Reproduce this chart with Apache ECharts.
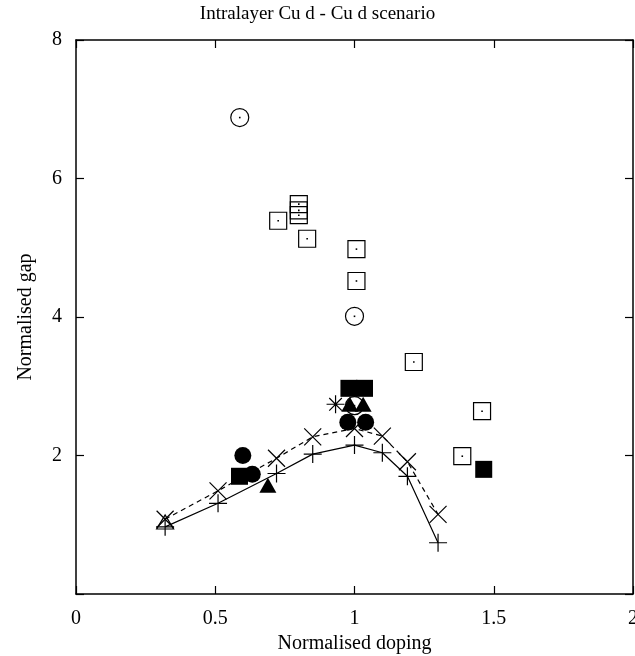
<!DOCTYPE html>
<html>
<head>
<meta charset="utf-8">
<script src="https://cdn.jsdelivr.net/npm/echarts@6/dist/echarts.min.js"></script>
<style>
  html, body { margin: 0; padding: 0; background: #fff; }
  #chart { width: 635px; height: 656px; }
</style>
</head>
<body>
<div id="chart"></div>
<script>
// Normalised gap vs normalised doping, intralayer Cu d - Cu d scenario

// x ticks / y ticks
const xTicks = [0, 0.5, 1, 1.5, 2];
const yTicks = [0, 2, 4, 6, 8];

// open squares (with centre dot)
const openSquares = [
  [0.726, 5.39], [0.80, 5.63], [0.80, 5.54], [0.80, 5.47], [0.830, 5.13],
  [1.007, 4.98], [1.007, 4.52], [1.213, 3.35], [1.458, 2.64], [1.387, 1.99]
];
// open circles (with centre dot)
const openCircles = [[0.588, 6.88], [1.0, 4.01], [1.0, 2.72]];
// filled squares
const filledSquares = [[0.587, 1.70], [0.98, 2.97], [1.036, 2.97], [1.464, 1.80]];
// filled circles
const filledCircles = [[0.599, 2.00], [0.633, 1.73], [0.976, 2.48], [1.04, 2.48]];
// filled triangles
const filledTriangles = [[0.689, 1.57], [0.983, 2.74], [1.031, 2.74]];
// open triangles
const openTriangles = [[0.32, 1.04]];
// star marker
const stars = [[0.932, 2.74]];

// model curves
const curveX = [0.32, 0.51, 0.72, 0.85, 1.0, 1.10, 1.19, 1.30];
const dashedY = [1.08, 1.49, 1.96, 2.27, 2.39, 2.28, 1.91, 1.15];
const solidY  = [0.97, 1.31, 1.74, 2.02, 2.15, 2.04, 1.70, 0.74];

const pair = (xs, ys) => xs.map((x, i) => [x, ys[i]]);

const FONT = 'Liberation Serif';
const CROSS = 'path://M0,0L20,20M20,0L0,20';
const PLUS = 'path://M10,0V20M0,10H20';
const STAR = 'path://M0,10H20M10,0V20M3,3L17,17M17,3L3,17';
const OPEN_TRI = 'path://M10,0L20,17.3L0,17.3Z';

const strokeOnly = { color: 'transparent', borderColor: '#000', borderWidth: 1.2, opacity: 1 };
const solidFill = { color: '#000', opacity: 1 };

const chart = echarts.init(document.getElementById('chart'), null, { renderer: 'canvas' });

const tickLabel = { fontFamily: FONT, fontSize: 20, color: '#000' };
const frameLine = { show: true, onZero: false, lineStyle: { color: '#000', width: 1.5 } };
const inTicks = { show: true, inside: true, length: 8, lineStyle: { color: '#000', width: 1.2 } };

chart.setOption({
  animation: false,
  backgroundColor: '#fff',
  title: {
    text: 'Intralayer Cu d - Cu d scenario',
    left: 'center',
    top: 0,
    textStyle: { fontFamily: FONT, fontSize: 19, fontWeight: 'normal', color: '#000' }
  },
  grid: { left: 76, right: 2, top: 40, bottom: 62, outerBoundsMode: 'none', containLabel: false },
  xAxis: [{
    type: 'value', min: xTicks[0], max: xTicks[xTicks.length - 1], interval: 0.5,
    name: 'Normalised doping', nameLocation: 'middle', nameGap: 40,
    nameTextStyle: { fontFamily: FONT, fontSize: 20, color: '#000' },
    axisLine: frameLine, axisTick: inTicks,
    axisLabel: Object.assign({ margin: 15, showMaxLabel: true, showMinLabel: true }, tickLabel),
    splitLine: { show: false }
  }, {
    type: 'value', position: 'top', min: xTicks[0], max: xTicks[xTicks.length - 1], interval: 0.5,
    axisLine: frameLine, axisTick: inTicks,
    axisLabel: { show: false },
    splitLine: { show: false }
  }],
  yAxis: [{
    type: 'value', min: yTicks[0], max: yTicks[yTicks.length - 1], interval: 2,
    name: 'Normalised gap', nameLocation: 'middle', nameGap: 40,
    nameTextStyle: { fontFamily: FONT, fontSize: 20, color: '#000' },
    axisLine: frameLine, axisTick: inTicks,
    axisLabel: Object.assign({ margin: 14, formatter: v => (v === 0 ? '' : String(v)) }, tickLabel),
    splitLine: { show: false }
  }, {
    type: 'value', position: 'right', min: yTicks[0], max: yTicks[yTicks.length - 1], interval: 2,
    axisLine: frameLine, axisTick: inTicks,
    axisLabel: { show: false },
    splitLine: { show: false }
  }],
  series: [
    {
      type: 'line', data: pair(curveX, solidY), symbol: PLUS, symbolSize: 18,
      lineStyle: { color: '#000', width: 1.2 }, itemStyle: strokeOnly, z: 2
    },
    {
      type: 'line', data: pair(curveX, dashedY), symbol: CROSS, symbolSize: 17,
      lineStyle: { color: '#000', width: 1.2, type: [5, 4] }, itemStyle: strokeOnly, z: 2
    },
    { type: 'scatter', data: openTriangles, symbol: OPEN_TRI, symbolSize: [17, 14], itemStyle: strokeOnly, z: 3 },
    { type: 'scatter', data: openSquares, symbol: 'rect', symbolSize: 17, itemStyle: strokeOnly, z: 3 },
    { type: 'scatter', data: openSquares, symbol: 'rect', symbolSize: 1.6, itemStyle: solidFill, z: 3 },
    { type: 'scatter', data: openCircles, symbol: 'circle', symbolSize: 18, itemStyle: strokeOnly, z: 3 },
    { type: 'scatter', data: openCircles, symbol: 'rect', symbolSize: 1.6, itemStyle: solidFill, z: 3 },
    { type: 'scatter', data: stars, symbol: STAR, symbolSize: 18, itemStyle: strokeOnly, z: 4 },
    { type: 'scatter', data: filledCircles, symbol: 'circle', symbolSize: 17, itemStyle: solidFill, z: 4 },
    { type: 'scatter', data: filledTriangles, symbol: 'triangle', symbolSize: [17, 15], itemStyle: solidFill, z: 4 },
    { type: 'scatter', data: filledSquares, symbol: 'rect', symbolSize: 17, itemStyle: solidFill, z: 4 }
  ]
});
</script>
</body>
</html>
